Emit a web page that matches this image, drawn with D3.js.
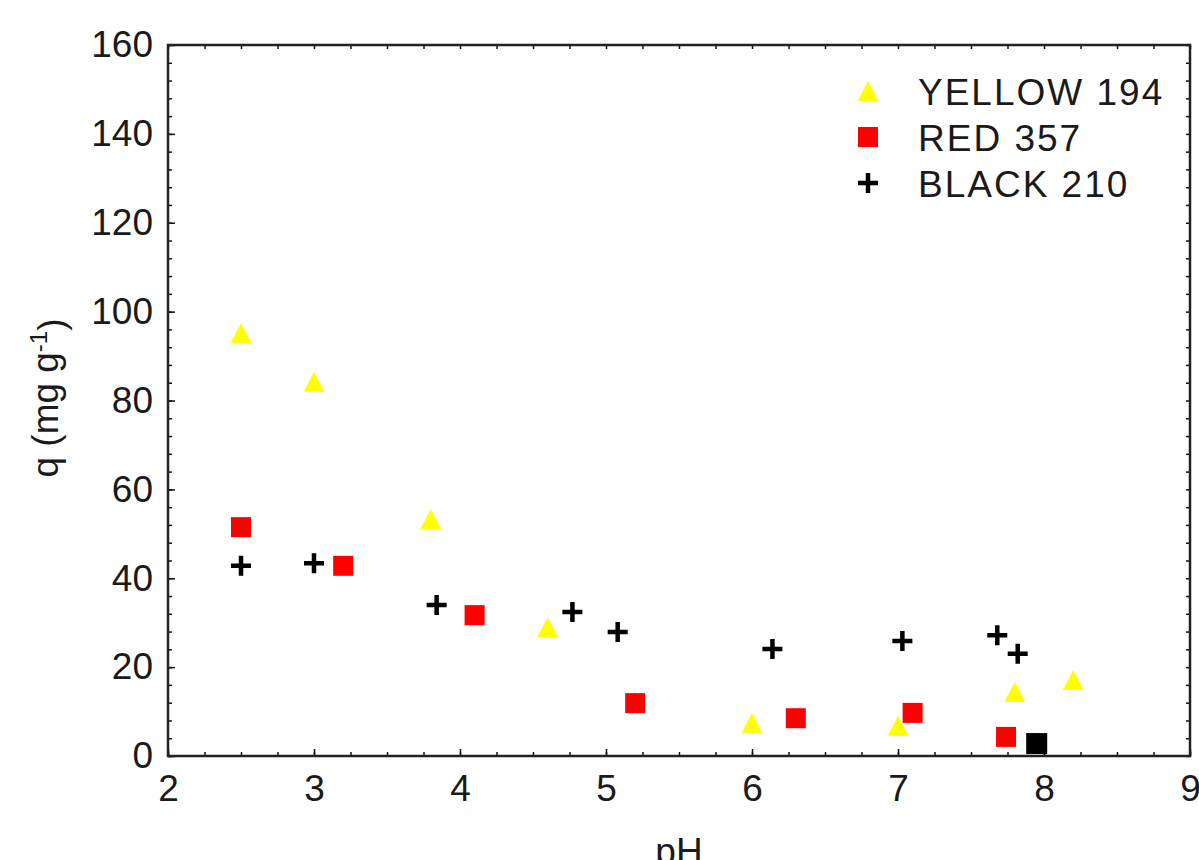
<!DOCTYPE html>
<html>
<head>
<meta charset="utf-8">
<script src="https://cdn.jsdelivr.net/npm/d3@7"></script>
<style>
  body { margin: 0; background: #fff; }
  text { font-family: "Liberation Sans", Arial, sans-serif; }
</style>
</head>
<body>
<div id="chart"></div>
<script>
// data (pH, q in mg/g)
var yellowPH = [2.5, 3.0, 3.8, 4.6, 6.0, 7.0, 7.8, 8.2];
var yellowQ  = [95.2, 84.2, 53.3, 29.0, 7.5, 6.8, 14.4, 17.1];
var redPH = [2.5, 3.2, 4.1, 5.2, 6.3, 7.1, 7.74];
var redQ  = [51.5, 42.8, 31.7, 11.9, 8.5, 9.7, 4.3];
var blackPH = [2.5, 3.0, 3.84, 4.77, 5.08, 6.14, 7.03, 7.68, 7.82];
var blackQ  = [42.8, 43.4, 34.0, 32.4, 27.9, 24.1, 25.9, 27.2, 23.0];
// lone black square near the axis
var extraPH = [7.95];
var extraQ  = [2.8];
var seriesNames = ["YELLOW 194", "RED 357", "BLACK 210"];
var xTicks = [2, 3, 4, 5, 6, 7, 8, 9];
var yTicks = [0, 20, 40, 60, 80, 100, 120, 140, 160];

var margin = {top: 45, right: 9, bottom: 104, left: 168},
    width = 1199 - margin.left - margin.right,
    height = 860 - margin.top - margin.bottom;

var svg = d3.select("#chart")
    .append("svg")
    .attr("width", 1199)
    .attr("height", 860)
    .append("g")
    .attr("transform", "translate(" + margin.left + "," + margin.top + ")");

var x = d3.scaleLinear().domain([2, 9]).range([0, width]);
var y = d3.scaleLinear().domain([0, 160]).range([height, 0]);

var xMinor = d3.range(2, 9.01, 0.25);
var yMinor = d3.range(0, 160.01, 4);

// minor ticks on all four sides
svg.append("g").attr("transform", "translate(0," + height + ")")
    .call(d3.axisBottom(x).tickValues(xMinor).tickFormat("").tickSize(-4))
    .attr("class", "minor");
svg.append("g")
    .call(d3.axisTop(x).tickValues(xMinor).tickFormat("").tickSize(-4))
    .attr("class", "minor");
svg.append("g")
    .call(d3.axisLeft(y).tickValues(yMinor).tickFormat("").tickSize(-4))
    .attr("class", "minor");
svg.append("g").attr("transform", "translate(" + width + ",0)")
    .call(d3.axisRight(y).tickValues(yMinor).tickFormat("").tickSize(-4))
    .attr("class", "minor");
svg.selectAll(".minor .domain").remove();
svg.selectAll(".minor line").attr("stroke", "#111").attr("stroke-width", 1.5);

// major axes with labels
var xAxis = svg.append("g")
    .attr("transform", "translate(0," + height + ")")
    .call(d3.axisBottom(x).tickValues(xTicks).tickSize(-7).tickPadding(19).tickFormat(d3.format("d")));
var yAxis = svg.append("g")
    .call(d3.axisLeft(y).tickValues(yTicks).tickSize(-7).tickPadding(15).tickFormat(d3.format("d")));
[xAxis, yAxis].forEach(function(a) {
  a.select(".domain").remove();
  a.selectAll("line").attr("stroke", "#111").attr("stroke-width", 1.5);
  a.selectAll("text")
    .style("font-size", "37px")
    .style("font-family", "'Liberation Sans', Arial, sans-serif")
    .attr("fill", "#1a1a1a");
});

// frame
svg.append("rect")
    .attr("width", width)
    .attr("height", height)
    .attr("fill", "none")
    .attr("stroke", "#222")
    .attr("stroke-width", 2.5);

// axis titles
svg.append("text")
    .attr("x", width / 2)
    .attr("y", height + 108)
    .attr("text-anchor", "middle")
    .style("font-size", "37px")
    .attr("fill", "#1a1a1a")
    .text("pH");

var yLab = svg.append("text")
    .attr("transform", "translate(" + (58 - margin.left) + "," + (398 - margin.top) + ") rotate(-90)")
    .attr("text-anchor", "middle")
    .style("font-size", "37px")
    .attr("fill", "#1a1a1a");
yLab.append("tspan").text("q (mg g");
yLab.append("tspan").attr("dy", "-0.45em").style("font-size", "24px").text("-1");
yLab.append("tspan").attr("dy", "0.45em").text(")");

// marker shapes
function triangle(s) {
  var h = s * 0.95;
  return "M0," + (-h / 2) + "L" + (s / 2) + "," + (h / 2) + "L" + (-s / 2) + "," + (h / 2) + "Z";
}
function drawTri(g, cx, cy) {
  g.append("path").attr("transform", "translate(" + cx + "," + cy + ")")
    .attr("d", triangle(21)).attr("fill", "#ffff00");
}
function drawSquare(g, cx, cy, color, s) {
  g.append("rect").attr("x", cx - s / 2).attr("y", cy - s / 2)
    .attr("width", s).attr("height", s).attr("fill", color);
}
function drawCross(g, cx, cy) {
  g.append("path")
    .attr("d", "M" + (cx - 10) + "," + cy + "H" + (cx + 10) + "M" + cx + "," + (cy - 10) + "V" + (cy + 10))
    .attr("stroke", "#000").attr("stroke-width", 4.5).attr("fill", "none");
}

svg.append("clipPath").attr("id", "plotclip")
  .append("rect").attr("width", width).attr("height", height);
var pts = svg.append("g").attr("clip-path", "url(#plotclip)");

yellowPH.forEach(function(d, i) { drawTri(pts, x(d), y(yellowQ[i])); });
redPH.forEach(function(d, i) { drawSquare(pts, x(d), y(redQ[i]), "#ff0000", 20); });
blackPH.forEach(function(d, i) { drawCross(pts, x(d), y(blackQ[i])); });
extraPH.forEach(function(d, i) { drawSquare(pts, x(d), y(extraQ[i]), "#000", 21); });

// legend
var legend = svg.append("g").attr("transform", "translate(" + (868 - margin.left) + "," + (91 - margin.top) + ")");
seriesNames.forEach(function(name, i) {
  var cy = i * 46;
  if (i === 0) drawTri(legend, 0, cy);
  if (i === 1) drawSquare(legend, 0, cy, "#ff0000", 20);
  if (i === 2) drawCross(legend, 0, cy);
  legend.append("text")
    .attr("x", 50)
    .attr("y", cy + 14)
    .style("font-size", "37px")
    .style("letter-spacing", "2px")
    .attr("fill", "#1a1a1a")
    .text(name);
});
</script>
</body>
</html>
